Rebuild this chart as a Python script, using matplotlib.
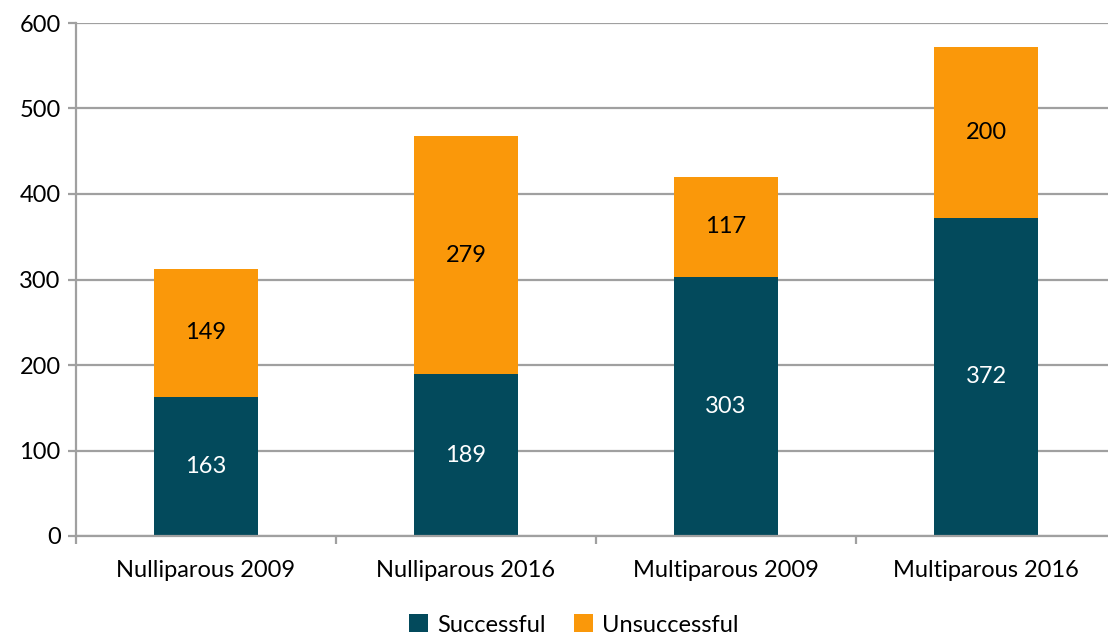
import matplotlib
matplotlib.use("Agg")
import matplotlib.pyplot as plt
import numpy as np

plt.rcParams["font.family"] = ["Lato", "DejaVu Sans"]

categories = ["Nulliparous 2009", "Nulliparous 2016", "Multiparous 2009", "Multiparous 2016"]
successful = [163, 189, 303, 372]
unsuccessful = [149, 279, 117, 200]

COL_SUCC = "#034a5c"
COL_UNSUCC = "#fa980a"
GRID = "#a0a0a0"
FS = 17

fig = plt.figure(figsize=(11.08, 6.36), dpi=100)
ax = fig.add_axes([76 / 1108, 100 / 636, 1032 / 1108, 513 / 636])

x = np.arange(len(categories))
w = 0.4
b1 = ax.bar(x, successful, w, color=COL_SUCC, label="Successful", zorder=2)
b2 = ax.bar(x, unsuccessful, w, bottom=successful, color=COL_UNSUCC,
            label="Unsuccessful", zorder=2)

# value labels centred in each segment
for xi, s, u in zip(x, successful, unsuccessful):
    ax.text(xi, s / 2, str(s), ha="center", va="center", fontsize=FS, color="white", zorder=3)
    ax.text(xi, s + u / 2, str(u), ha="center", va="center", fontsize=FS, color="black", zorder=3)

ax.set_xlim(-0.5, -0.5 + 1032 / 260)
ax.set_ylim(0, 600)
ax.set_yticks(range(0, 601, 100))
ax.yaxis.grid(True, color=GRID, lw=1.6, zorder=0)
ax.set_axisbelow(True)

ax.set_xticks(x)
ax.set_xticklabels(categories)
ax.set_xticks([-0.5, 0.5, 1.5, 2.5], minor=True)
ax.tick_params(axis="x", which="major", length=0, pad=17, labelsize=FS)
ax.tick_params(axis="x", which="minor", length=6, width=1.6, color=GRID)
ax.tick_params(axis="y", length=6, width=1.6, color=GRID, labelsize=FS, pad=5)

for side in ["top", "right"]:
    ax.spines[side].set_visible(False)
for side in ["left", "bottom"]:
    ax.spines[side].set_color(GRID)
    ax.spines[side].set_linewidth(1.6)

fig.legend(handles=[b1, b2], labels=["Successful", "Unsuccessful"],
           loc="center", bbox_to_anchor=(574 / 1108, 11 / 636), ncol=2,
           frameon=False, fontsize=FS, handlelength=0.8, handleheight=0.8,
           handletextpad=0.4, columnspacing=1.2)

fig.savefig("out.png", dpi=100, facecolor="white")
